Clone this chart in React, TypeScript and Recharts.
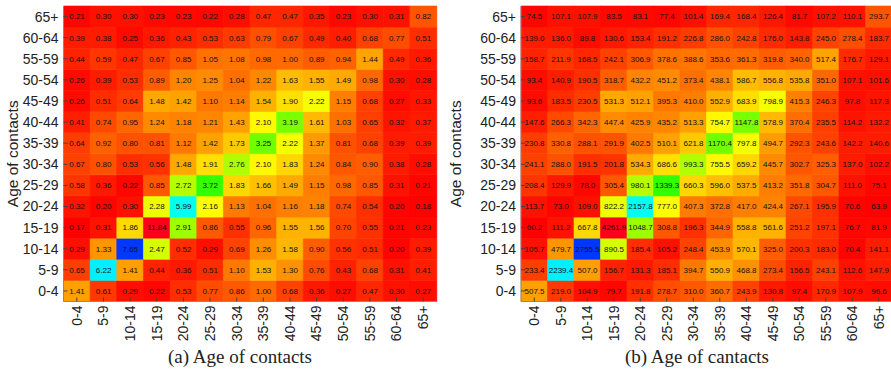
import { Bar, BarChart, Cell, LabelList, XAxis, YAxis } from "recharts";

const ageGroups = [
  "0-4", "5-9", "10-14", "15-19", "20-24", "25-29", "30-34",
  "35-39", "40-44", "45-49", "50-54", "55-59", "60-64", "65+",
];

// rows = age of contacts (0-4 first), columns = age of participant
const contactRates = [
  [1.41, 0.61, 0.29, 0.22, 0.53, 0.77, 0.86, 1.0, 0.68, 0.36, 0.27, 0.47, 0.3, 0.27],
  [0.65, 6.22, 1.41, 0.44, 0.36, 0.51, 1.1, 1.53, 1.3, 0.76, 0.43, 0.68, 0.31, 0.41],
  [0.29, 1.33, 7.65, 2.47, 0.52, 0.29, 0.69, 1.26, 1.58, 0.9, 0.56, 0.51, 0.2, 0.39],
  [0.17, 0.31, 1.86, 11.84, 2.91, 0.86, 0.55, 0.96, 1.55, 1.56, 0.7, 0.55, 0.21, 0.23],
  [0.32, 0.2, 0.3, 2.28, 5.99, 2.16, 1.13, 1.04, 1.16, 1.18, 0.74, 0.54, 0.2, 0.18],
  [0.58, 0.36, 0.22, 0.85, 2.72, 3.72, 1.83, 1.66, 1.49, 1.15, 0.98, 0.85, 0.31, 0.21],
  [0.67, 0.8, 0.53, 0.56, 1.48, 1.91, 2.76, 2.1, 1.83, 1.24, 0.84, 0.9, 0.38, 0.28],
  [0.64, 0.92, 0.8, 0.81, 1.12, 1.42, 1.73, 3.25, 2.22, 1.37, 0.81, 0.68, 0.39, 0.39],
  [0.41, 0.74, 0.95, 1.24, 1.18, 1.21, 1.43, 2.1, 3.19, 1.61, 1.03, 0.65, 0.32, 0.37],
  [0.26, 0.51, 0.64, 1.48, 1.42, 1.1, 1.14, 1.54, 1.9, 2.22, 1.15, 0.68, 0.27, 0.33],
  [0.26, 0.39, 0.53, 0.89, 1.2, 1.25, 1.04, 1.22, 1.63, 1.55, 1.49, 0.98, 0.3, 0.28],
  [0.44, 0.59, 0.47, 0.67, 0.85, 1.05, 1.08, 0.98, 1.0, 0.89, 0.94, 1.44, 0.49, 0.36],
  [0.39, 0.38, 0.25, 0.36, 0.43, 0.53, 0.63, 0.79, 0.67, 0.49, 0.4, 0.68, 0.77, 0.51],
  [0.21, 0.3, 0.3, 0.23, 0.23, 0.22, 0.28, 0.47, 0.47, 0.35, 0.23, 0.3, 0.31, 0.82],
];

const contactCounts = [
  [507.5, 219.0, 104.9, 79.7, 191.8, 278.7, 310.0, 360.7, 243.9, 130.8, 97.4, 170.9, 107.9, 96.6],
  [233.4, 2239.4, 507.0, 156.7, 131.3, 185.1, 394.7, 550.9, 468.8, 273.4, 156.5, 243.1, 112.6, 147.9],
  [105.7, 479.7, 2755.5, 890.5, 185.4, 105.2, 248.4, 453.9, 570.1, 325.0, 200.3, 183.0, 70.4, 141.1],
  [60.2, 111.2, 667.8, 4261.9, 1048.7, 308.8, 196.3, 344.9, 558.8, 561.6, 251.2, 197.1, 76.7, 81.9],
  [113.7, 73.0, 109.0, 822.2, 2157.8, 777.0, 407.3, 372.8, 417.0, 424.4, 267.1, 195.9, 70.6, 63.9],
  [208.4, 129.9, 78.0, 305.4, 980.1, 1339.3, 660.3, 596.0, 537.5, 413.2, 351.8, 304.7, 111.0, 75.1],
  [241.1, 288.0, 191.5, 201.8, 534.3, 686.6, 993.3, 755.5, 659.2, 445.7, 302.7, 325.3, 137.0, 102.2],
  [230.8, 330.8, 288.1, 291.9, 402.5, 510.1, 621.8, 1170.4, 797.8, 494.7, 292.3, 243.6, 142.2, 140.6],
  [147.6, 266.3, 342.3, 447.4, 425.9, 435.2, 513.3, 754.7, 1147.8, 578.9, 370.4, 235.5, 114.2, 132.2],
  [93.6, 183.5, 230.5, 531.3, 512.1, 395.3, 410.0, 552.9, 683.9, 798.9, 415.3, 246.3, 97.8, 117.3],
  [93.4, 140.9, 190.5, 318.7, 432.2, 451.2, 373.4, 438.1, 586.7, 556.8, 535.8, 351.0, 107.1, 101.6],
  [158.7, 211.9, 168.5, 242.1, 306.9, 378.6, 388.6, 353.6, 361.3, 319.8, 340.0, 517.4, 176.7, 129.1],
  [139.0, 136.0, 89.8, 130.6, 153.4, 191.2, 226.8, 286.0, 242.8, 176.0, 143.8, 245.0, 278.4, 183.7],
  [74.5, 107.1, 107.9, 83.5, 83.1, 77.4, 101.4, 169.4, 168.4, 126.4, 81.7, 107.2, 110.1, 293.7],
];

const rowTicks = ageGroups.map((_, i) => i + 0.5);

const sans = "'Liberation Sans', Arial, sans-serif";
const frame = "#8a8a8a";

// matlab-like hsv colormap
const heatColor = (v: number, min: number, max: number) => {
  const hue = ((v - min) / (max - min)) * 354;
  return `hsl(${hue.toFixed(1)}, 100%, 50%)`;
};

const RotatedTick = (props: any) => {
  const { x, y, payload } = props;
  return (
    <text
      x={x}
      y={y}
      transform={`rotate(-90 ${x} ${y})`}
      textAnchor="end"
      dy="0.35em"
      fontSize={14}
      fontFamily={sans}
      fill="#222"
    >
      {payload.value}
    </text>
  );
};

type HeatmapProps = {
  matrix: number[][];
  digits: number;
  width: number;
  axisWidth: number;
  right: number;
  labelX: number;
};

const Heatmap = ({ matrix, digits, width, axisWidth, right, labelX }: HeatmapProps) => {
  const all = matrix.flat();
  const min = Math.min(...all);
  const max = Math.max(...all);
  const data = ageGroups.map((age, j) => {
    const d: Record<string, string | number> = { age };
    matrix.forEach((row, i) => {
      d[`r${i}`] = 1;
      d[`v${i}`] = row[j].toFixed(digits);
    });
    return d;
  });

  return (
    <BarChart
      width={width}
      height={372}
      data={data}
      barCategoryGap={0}
      margin={{ top: 6, right, bottom: 0, left: 0 }}
    >
      {matrix.map((row, i) => (
        <Bar key={i} dataKey={`r${i}`} stackId="m" isAnimationActive={false}>
          {row.map((v, j) => (
            <Cell key={j} fill={heatColor(v, min, max)} stroke={heatColor(v, min, max)} strokeWidth={0.6} />
          ))}
          <LabelList
            dataKey={`v${i}`}
            position="center"
            fill="#111"
            fontSize={8}
            fontFamily={sans}
          />
        </Bar>
      ))}
      <XAxis
        dataKey="age"
        height={70.5}
        interval={0}
        tick={<RotatedTick />}
        tickSize={-4}
        tickMargin={8}
        stroke={frame}
        tickLine={{ stroke: "#444" }}
      />
      <XAxis
        xAxisId="top"
        dataKey="age"
        orientation="top"
        height={0}
        interval={0}
        tick={false}
        tickSize={-4}
        stroke={frame}
        tickLine={{ stroke: "#444" }}
      />
      <YAxis
        type="number"
        domain={[0, 14]}
        ticks={rowTicks}
        interval={0}
        width={axisWidth}
        tickSize={-4}
        tickMargin={9}
        tickFormatter={(t: number) => ageGroups[Math.floor(t)]}
        tick={{ fontSize: 14, fontFamily: sans, fill: "#222" }}
        stroke={frame}
        tickLine={{ stroke: "#444" }}
        label={{
          value: "Age of contacts",
          angle: -90,
          position: "insideLeft",
          offset: labelX,
          style: { textAnchor: "middle", fontSize: 15.5, fontFamily: sans, fill: "#222" },
        }}
      />
      <YAxis
        yAxisId="right"
        orientation="right"
        type="number"
        domain={[0, 14]}
        ticks={rowTicks}
        interval={0}
        width={0}
        tick={false}
        tickSize={-4}
        stroke={frame}
        tickLine={{ stroke: "#444" }}
      />
    </BarChart>
  );
};

const captionStyle: React.CSSProperties = {
  position: "absolute",
  top: 346,
  width: 300,
  textAlign: "center",
  fontFamily: "'Liberation Serif', 'Times New Roman', serif",
  fontSize: 19,
  color: "#222",
  lineHeight: "22px",
};

export default function App() {
  return (
    <div
      style={{
        position: "absolute",
        left: 0,
        top: 0,
        width: 891,
        height: 372,
        overflow: "hidden",
        background: "#fff",
      }}
    >
      <div style={{ position: "absolute", left: 0, top: 0 }}>
        <Heatmap matrix={contactRates} digits={2} width={445} axisWidth={63.5} right={8.5} labelX={12} />
      </div>
      <div style={{ position: "absolute", left: 445, top: 0 }}>
        <Heatmap matrix={contactCounts} digits={1} width={460} axisWidth={76} right={13} labelX={10} />
      </div>
      <div style={{ ...captionStyle, left: 90 }}>(a) Age of contacts</div>
      <div style={{ ...captionStyle, left: 547 }}>(b) Age of cantacts</div>
    </div>
  );
}
